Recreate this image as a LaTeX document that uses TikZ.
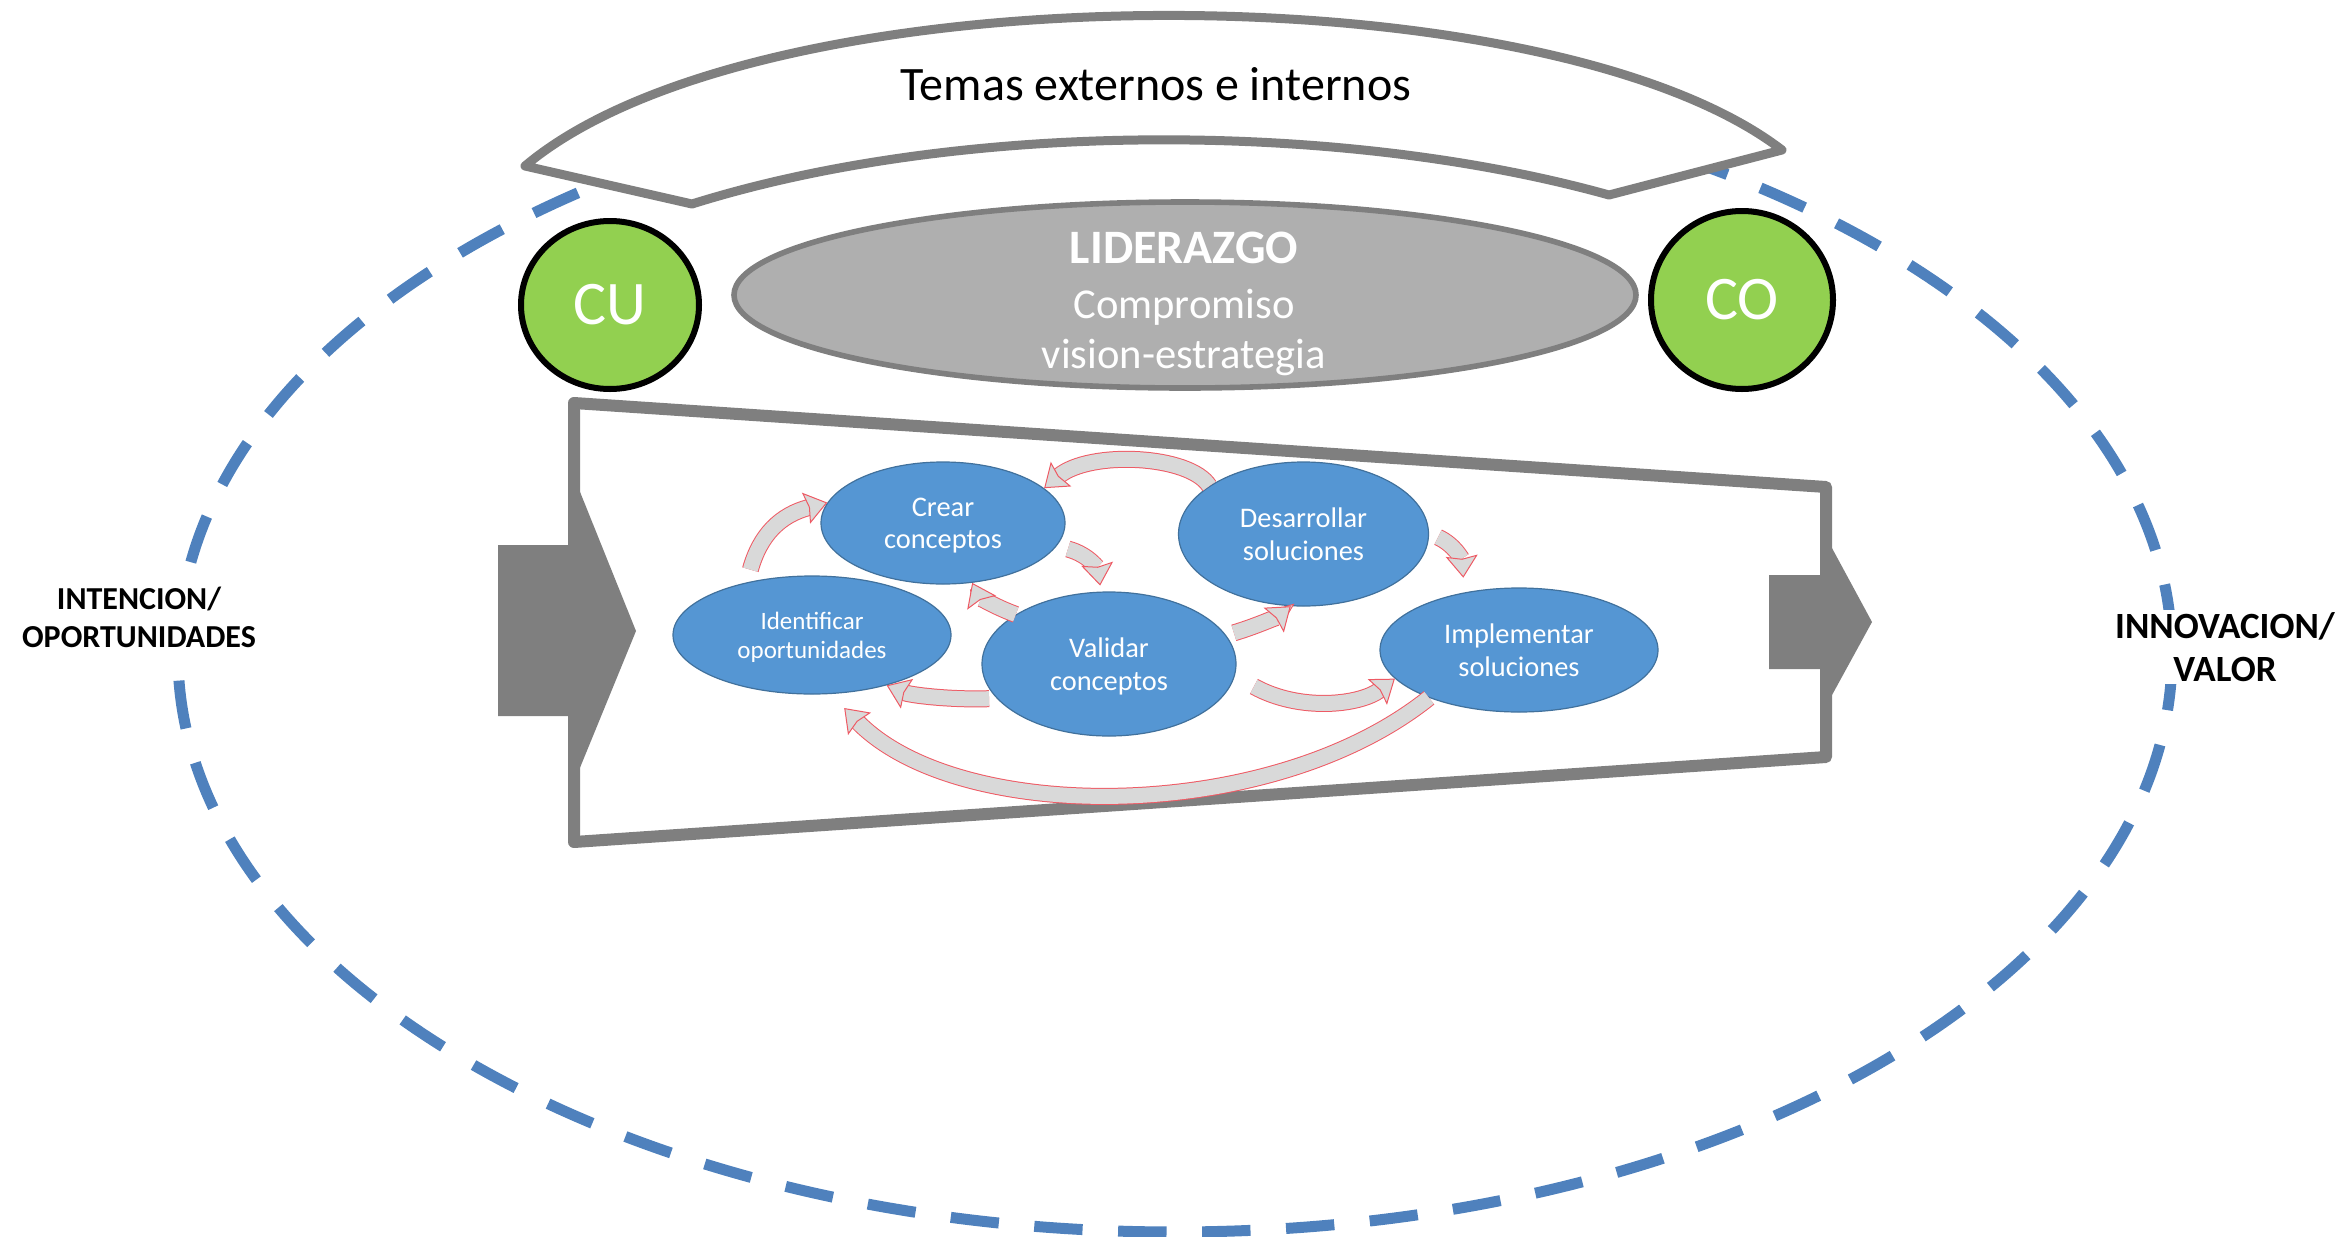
\documentclass[tikz,border=0pt]{standalone}
\usepackage{fontspec}
\setmainfont{Carlito}
\usetikzlibrary{arrows.meta,shapes.geometric}
\definecolor{dashblue}{HTML}{4F81BD}
\definecolor{framegray}{HTML}{7F7F7F}
\definecolor{leadfill}{HTML}{AFAFAF}
\definecolor{cfill}{HTML}{92D050}
\definecolor{stepfill}{HTML}{5596D3}
\definecolor{stepline}{HTML}{41719C}
\definecolor{bandfill}{HTML}{D9D9D9}
\definecolor{bandline}{HTML}{EE5A64}
\newcommand{\fs}[1]{\fontsize{#1}{#1}\selectfont}
\tikzset{
  x=0.5pt,y=-0.5pt,
  stage/.style={ellipse,draw=stepline,line width=0.6pt,fill=stepfill,inner sep=0pt,
    text=white,align=center,font=\fs{14.2},text depth=0pt},
  circ/.style={ellipse,draw=black,line width=3pt,fill=cfill,inner sep=0pt,text=white,font=\fs{31}},
  band/.style={line width=0.5pt,draw=bandline,double=bandfill,double distance=7.5pt,
    -{Stealth[length=11pt,width=16pt,inset=1.5pt,fill=bandfill,color=bandline,line width=0.5pt]}},
  side/.style={fill=white,inner sep=1pt,align=center,font=\bfseries\fs{16}},
}
\begin{document}
\begin{tikzpicture}
\useasboundingbox (0,0) rectangle (2346,1237);
% dashed outer ellipse
\draw[dashblue,line width=5.5pt,dash pattern=on 24.2pt off 17.8pt,dash phase=38.5pt] (1175,655) ellipse [x radius=997,y radius=577];
% banner
\draw[framegray,line width=4.5pt,line join=round,fill=white]
  (525,166) .. controls (760,-32) and (1545,-32) .. (1782,150)
  -- (1609,195) .. controls (1340,120) and (960,120) .. (692,204) -- cycle;
\node[inner sep=0pt,font=\fs{24}] (temas) at (1156,84) {Temas externos e internos};
% leadership
\node[ellipse,draw=framegray,line width=2.8pt,fill=leadfill,minimum width=451pt,minimum height=93pt,inner sep=0pt] (lid) at (1185,295) {};
\node[text=white,font=\bfseries\fs{24}] (lid1) at (1184,248) {LIDERAZGO};
\node[text=white,font=\fs{21.3}] (lid2) at (1184,307) {Compromiso};
\node[text=white,font=\fs{21.3}] (lid3) at (1184,358) {vision-estrategia};
% customer / company circles
\node[circ,minimum width=89pt,minimum height=84pt] (cu) at (610,305) {\raisebox{-1.5pt}{CU}};
\node[circ,minimum width=91pt,minimum height=89pt] (co) at (1742,300) {\raisebox{-1.5pt}{CO}};
% funnel
\draw[framegray,line width=6pt,line join=round] (574,403) -- (1826,487) -- (1826,757) -- (574,842) -- cycle;
% big arrows
\fill[framegray] (498,545) -- (568,545) -- (568,462) -- (636,631) -- (568,797) -- (568,716) -- (498,716) -- cycle;
\fill[framegray] (1769,575) -- (1826,575) -- (1826,537) -- (1872,622) -- (1826,706) -- (1826,669) -- (1769,669) -- cycle;
% stages
\node[stage,minimum width=122pt,minimum height=61pt] (crear) at (943,523) {Crear\\[2pt]conceptos};
\node[stage,minimum width=125pt,minimum height=72pt] (desa) at (1303.5,534) {Desarrollar\\[2pt]soluciones};
\node[stage,minimum width=139pt,minimum height=59pt,font=\fs{12.5}] (iden) at (812,635) {Identificar\\[2pt]oportunidades};
\node[stage,minimum width=127pt,minimum height=72pt] (vali) at (1109,664) {Validar\\[2pt]conceptos};
\node[stage,minimum width=139pt,minimum height=62pt] (impl) at (1519,650) {Implementar\\[2pt]soluciones};
% cycle arrows
\draw[band] ([shift={(-10,-10)}]iden.133) .. controls (760,535) and (780,515) .. (crear.170);
\draw[band] (desa.153) .. controls (1190,455) and (1090,450) .. (crear.19);
\draw[band] ([shift={(12,2)}]crear.-12) .. controls (1090,555) and (1098,570) .. ([shift={(0,-6)}]vali.97);
\draw[band] (vali.152) .. controls (990,605) and (978,595) .. (crear.-64);
\draw[band] ([shift={(-6,2)}]vali.196) .. controls (950,700) and (910,695) .. (iden.-34);
\draw[band] ([shift={(8,-2)}]vali.14) .. controls (1260,625) and (1280,615) .. (desa.-100);
\draw[band] ([shift={(9,1)}]desa.-1) .. controls (1455,545) and (1462,560) .. ([shift={(-11,-13)}]impl.127);
\draw[band] ([shift={(22,3)}]vali.-9) .. controls (1300,712) and (1360,705) .. (impl.193);
\draw[band] (impl.208.5) .. controls (1270,825) and (958,825) .. ([shift={(13,14)}]iden.-72);
% side labels
\node[side] (intencion) at (139,617) {INTENCION/\\[3pt]OPORTUNIDADES};
\node[side,font=\bfseries\fs{18.5}] (innovacion) at (2225,647) {INNOVACION/\\[3pt]VALOR};
\end{tikzpicture}
\end{document}
